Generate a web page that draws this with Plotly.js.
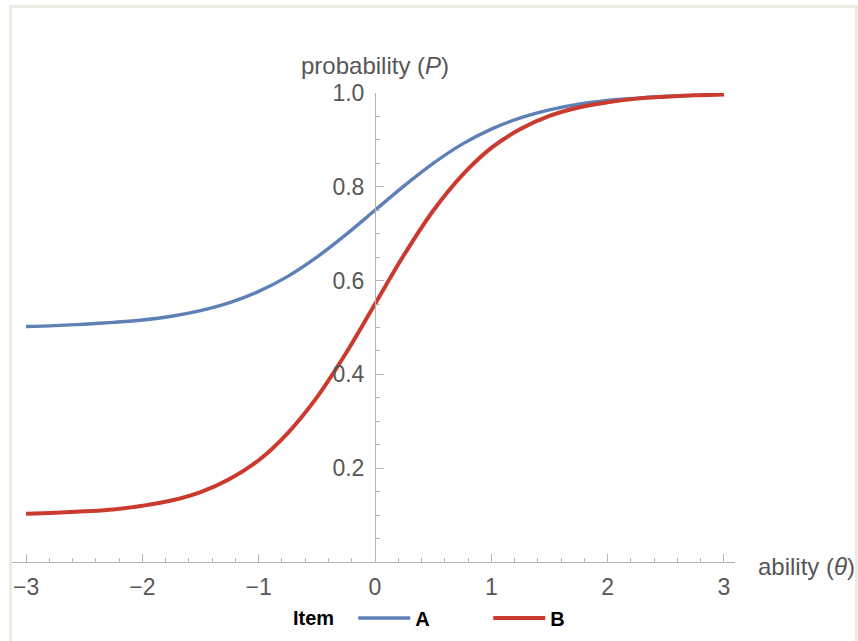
<!DOCTYPE html>
<html>
<head>
<meta charset="utf-8">
<script src="https://cdn.plot.ly/plotly-3.0.1.min.js"></script>
<style>
  html, body { margin: 0; padding: 0; background: #ffffff; }
  #wrap { position: relative; width: 858px; height: 641px; }
  #chart { position: absolute; left: 0; top: 0; width: 858px; height: 641px; }
  #frame { position: absolute; left: 9px; top: 5px; width: 843px; height: 640px;
           border-left: 3px solid #eeebe1; border-top: 3px solid #eeebe1; border-right: 3px solid #eeebe1;
           pointer-events: none; }
</style>
</head>
<body>
<div id="wrap">
  <div id="chart"></div>
  <div id="frame"></div>
</div>
<script>
// ability (theta) values
const theta = [-3, -2.75, -2.5, -2.25, -2, -1.75, -1.5, -1.25, -1, -0.75, -0.5, -0.25,
               0, 0.25, 0.5, 0.75, 1, 1.25, 1.5, 1.75, 2, 2.25, 2.5, 2.75, 3];
// Item A probability
const itemA = [0.502, 0.504, 0.507, 0.511, 0.516, 0.524, 0.536, 0.553, 0.577, 0.609, 0.650, 0.698,
               0.750, 0.802, 0.850, 0.891, 0.923, 0.947, 0.964, 0.976, 0.984, 0.989, 0.993, 0.995, 0.997];
// Item B probability
const itemB = [0.103, 0.105, 0.108, 0.112, 0.120, 0.131, 0.149, 0.177, 0.217, 0.275, 0.351, 0.445,
               0.550, 0.655, 0.749, 0.825, 0.883, 0.923, 0.951, 0.969, 0.980, 0.988, 0.992, 0.995, 0.997];
const seriesNames = ['A', 'B'];
const xTicks = [-3, -2, -1, 0, 1, 2, 3];
const yTicks = [0.2, 0.4, 0.6, 0.8, 1.0];
const yTickText = ['0.2', '0.4', '0.6', '0.8', '1.0'];

const axisGrey = '#b4b4b4';
const textGrey = '#575757';
const font = 'Liberation Sans, Arial, sans-serif';

const traces = [
  { x: theta, y: itemA, name: seriesNames[0], type: 'scatter', mode: 'lines',
    line: { color: '#5e81b5', width: 3.4, shape: 'spline', smoothing: 1 } },
  { x: theta, y: itemB, name: seriesNames[1], type: 'scatter', mode: 'lines',
    line: { color: '#cb3a2e', width: 4, shape: 'spline', smoothing: 1 } }
];

const L = 12, R = 735, T = 93, B = 562;
const xmin = -3.121, xmax = 3.095;
const ypos = (375 - L) / (R - L);

const layout = {
  width: 858, height: 641,
  margin: { l: L, r: 858 - R, t: T, b: 641 - B, pad: 0, autoexpand: false },
  paper_bgcolor: '#ffffff', plot_bgcolor: '#ffffff',
  font: { family: font, color: textGrey, size: 23 },
  showlegend: true,
  legend: {
    orientation: 'h', x: (291 - L) / (R - L), xanchor: 'left', y: (B - 618) / (B - T), yanchor: 'middle',
    title: { text: '<b>Item</b>&nbsp;&nbsp;', side: 'left', font: { family: font, size: 20, color: '#000000', weight: 'bold' } },
    font: { family: font, size: 20, color: '#000000', weight: 'bold' },
    itemwidth: 52,
    entrywidth: 68, entrywidthmode: 'pixels',
    bgcolor: 'rgba(0,0,0,0)', borderwidth: 0
  },
  xaxis: {
    range: [xmin, xmax], showgrid: false, zeroline: false,
    showline: true, linecolor: axisGrey, linewidth: 1,
    ticks: 'inside', ticklen: 8, tickcolor: axisGrey, tickwidth: 1,
    tickvals: xTicks, ticktext: xTicks.map(v => v < 0 ? '\u2212' + Math.abs(v) : String(v)),
    tickfont: { family: font, size: 23, color: textGrey },
    minor: { dtick: 0.2, tick0: 0, ticks: 'inside', ticklen: 4, tickcolor: axisGrey, showgrid: false },
    ticklabelstandoff: 4,
    fixedrange: true
  },
  yaxis: {
    range: [0, 1.0], showgrid: false, zeroline: false,
    anchor: 'free', position: ypos,
    showline: true, linecolor: axisGrey, linewidth: 1,
    ticks: 'inside', ticklen: 8, tickcolor: axisGrey, tickwidth: 1,
    tickvals: yTicks, ticktext: yTickText,
    tickfont: { family: font, size: 23, color: textGrey },
    minor: { dtick: 0.05, tick0: 0, ticks: 'inside', ticklen: 4, tickcolor: axisGrey, showgrid: false },
    ticklabelstandoff: 6,
    fixedrange: true
  },
  annotations: [
    { text: 'probability (<i>P</i>)', xref: 'x', yref: 'paper', x: 0, y: 1 + (T - 65) / (B - T),
      xanchor: 'center', yanchor: 'middle', showarrow: false,
      font: { family: font, size: 24, color: textGrey } },
    { text: 'ability (<i>θ</i>)', xref: 'paper', yref: 'paper', x: (756 - L) / (R - L), y: (B - 566) / (B - T),
      xanchor: 'left', yanchor: 'middle', showarrow: false,
      font: { family: font, size: 24, color: textGrey } }
  ]
};

Plotly.newPlot('chart', traces, layout, { staticPlot: true, displayModeBar: false });
</script>
</body>
</html>
